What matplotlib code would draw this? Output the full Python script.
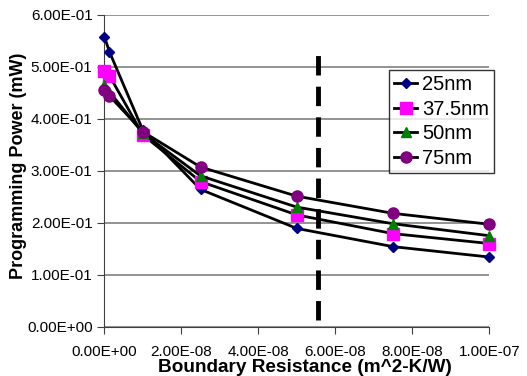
import matplotlib
matplotlib.use("Agg")
import matplotlib.pyplot as plt
from matplotlib.ticker import FuncFormatter, MultipleLocator

plt.rcParams['font.family'] = ['Liberation Sans', 'DejaVu Sans']

# boundary resistance (m^2-K/W)
resistance = [0.0, 1.3e-9, 1.0e-8, 2.5e-8, 5.0e-8, 7.5e-8, 1.0e-7]

# programming power (mW) for each thickness
power_25 = [0.558, 0.529, 0.378, 0.264, 0.189, 0.154, 0.134]
power_375 = [0.492, 0.483, 0.369, 0.279, 0.215, 0.179, 0.160]
power_50 = [0.465, 0.452, 0.372, 0.290, 0.230, 0.198, 0.175]
power_75 = [0.455, 0.444, 0.375, 0.307, 0.251, 0.218, 0.197]

labels = ['25nm', '37.5nm', '50nm', '75nm']
markers = ['D', 's', '^', 'o']
colors = ['#000080', '#FF00FF', '#008000', '#800080']
msizes = [5.5, 8, 6.5, 8]

# dashed marker line
cutoff_x = 5.55e-8
cutoff_y = [0.013, 0.524]

fig = plt.figure(figsize=(5.27, 3.76), dpi=100)
ax = fig.add_axes([0.198, 0.131, 0.7305, 0.83])

series = [power_25, power_375, power_50, power_75]
for vals, lab, mk, col, ms in zip(series, labels, markers, colors, msizes):
    ax.plot(resistance, vals, color='black', lw=2, marker=mk, markersize=ms,
            markerfacecolor=col, markeredgecolor=col, label=lab,
            clip_on=False, zorder=3)

ax.plot([cutoff_x, cutoff_x], cutoff_y, color='black', lw=3.5,
        linestyle=(0, (4, 2.3)), zorder=2)

ax.set_xlim(0, 1e-7)
ax.set_ylim(0, 0.6)
ax.xaxis.set_major_locator(MultipleLocator(2e-8))
ax.yaxis.set_major_locator(MultipleLocator(0.1))
fmt = FuncFormatter(lambda v, p: f"{v:.2E}")
ax.xaxis.set_major_formatter(fmt)
ax.yaxis.set_major_formatter(fmt)

ax.grid(axis='y', color='#808080', lw=1.2)
ax.set_axisbelow(True)
for s in ['top', 'right']:
    ax.spines[s].set_visible(False)
for s in ['left', 'bottom']:
    ax.spines[s].set_color('#404040')
ax.tick_params(direction='out', length=5, labelsize=11, color='#404040')
ax.tick_params(axis='x', pad=8)
ax.tick_params(axis='y', pad=3.5)

ax.set_xlabel('Boundary Resistance (m^2-K/W)', fontsize=13.7,
              fontweight='bold', va='top')
ax.xaxis.set_label_coords(0.521, -0.1035)
ax.set_ylabel('Programming Power (mW)', fontsize=13, fontweight='bold')
ax.yaxis.set_label_coords(-0.2008, 0.517)

leg = ax.legend(loc='upper left', bbox_to_anchor=(0.740, 0.823),
                fontsize=14.5, frameon=True, fancybox=False,
                borderpad=0.25, handlelength=1.15, handletextpad=0.25,
                labelspacing=0.28, borderaxespad=0)
leg.get_frame().set_edgecolor('black')
leg.get_frame().set_linewidth(1)

# the top gridline is drawn very faint in the original
fig.canvas.draw()
ax.yaxis.get_gridlines()[-1].set_color('#e6e6e6')

plt.savefig('out.png', dpi=100)
